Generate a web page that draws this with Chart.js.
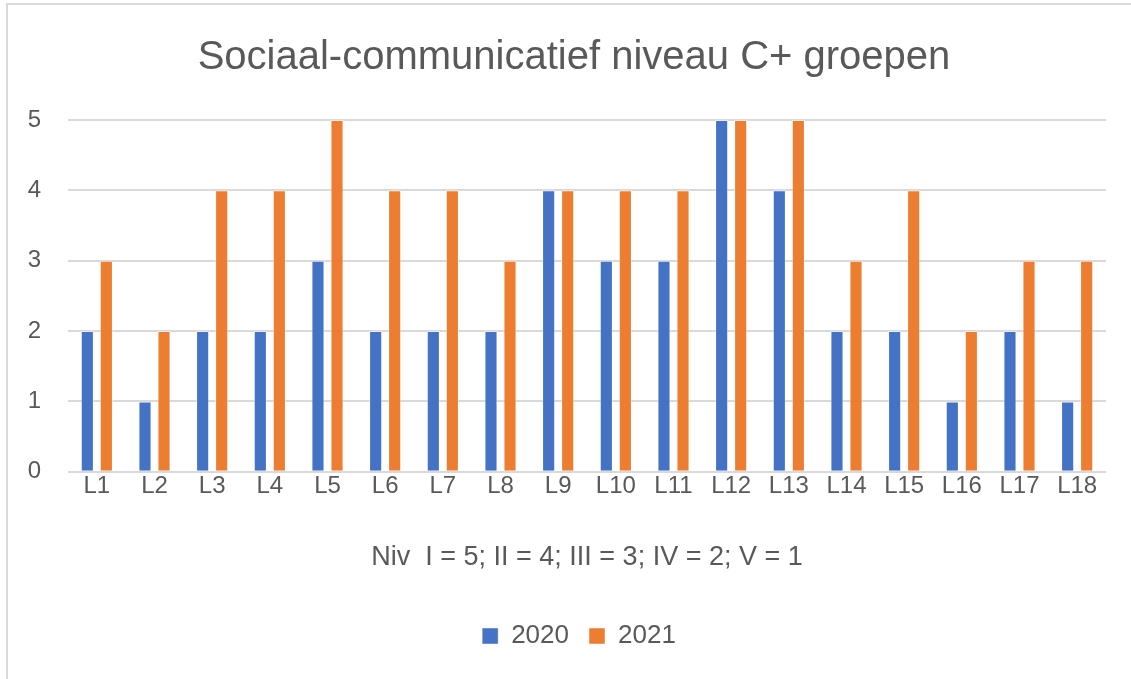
<!DOCTYPE html>
<html>
<head>
<meta charset="utf-8">
<script src="https://cdn.jsdelivr.net/npm/chart.js@4"></script>
<style>
  html, body { margin: 0; padding: 0; background: #fff; }
  #wrap { width: 1131px; height: 679px; }
</style>
</head>
<body>
<div id="wrap"><canvas id="chart"></canvas></div>
<script>
const categories = ['L1','L2','L3','L4','L5','L6','L7','L8','L9','L10','L11','L12','L13','L14','L15','L16','L17','L18']
const values2020 = [2, 1, 2, 2, 3, 2, 2, 2, 4, 3, 3, 5, 4, 2, 2, 1, 2, 1]
const values2021 = [3, 2, 4, 4, 5, 4, 4, 3, 4, 4, 4, 5, 5, 3, 4, 2, 3, 3]
const yTicks = [0, 1, 2, 3, 4, 5]

const textColor = '#595959'
const gridColor = '#d9d9d9'
const fontFamily = '"Liberation Sans", Arial, sans-serif'

// outer chart frame (the reference is a cropped screenshot of an Excel chart)
const framePlugin = {
  id: 'frame',
  afterLayout(chart) {
    // Excel centres title and legend on the whole (cropped) chart, not the plot area
    if (chart.titleBlock) { chart.titleBlock.left += 17; chart.titleBlock.right += 17 }
    if (chart.legend) { chart.legend.left += 22; chart.legend.right += 22 }
  },
  beforeDraw(chart) {
    const ctx = chart.ctx
    ctx.save()
    ctx.fillStyle = '#fff'
    ctx.fillRect(0, 0, chart.width, chart.height)
    ctx.strokeStyle = gridColor
    ctx.lineWidth = 2
    ctx.strokeRect(7, 4, chart.width + 20, chart.height + 20)
    ctx.restore()
  }
}

new Chart(document.getElementById('chart'), {
  type: 'bar',
  data: {
    labels: categories,
    datasets: [
      { label: '2020', data: values2020, backgroundColor: '#4472C4', borderColor: 'rgba(255,255,255,0.45)', borderWidth: 1 },
      { label: '2021', data: values2021, backgroundColor: '#ED7D31', borderColor: 'rgba(255,255,255,0.45)', borderWidth: 1 }
    ]
  },
  plugins: [framePlugin],
  options: {
    responsive: true,
    maintainAspectRatio: false,
    animation: false,
    categoryPercentage: 0.66,
    barPercentage: 0.69,
    layout: { padding: { left: 8, right: 25, top: 20, bottom: 20 } },
    plugins: {
      title: {
        display: true,
        text: 'Sociaal-communicatief niveau C+ groepen',
        color: textColor,
        font: { family: fontFamily, size: 40, weight: 'normal' },
        padding: { top: 14, bottom: 38 }
      },
      legend: {
        position: 'bottom',
        labels: {
          color: textColor,
          font: { family: fontFamily, size: 26 },
          boxWidth: 16,
          boxHeight: 16,
          padding: 20
        }
      },
      tooltip: { enabled: false }
    },
    scales: {
      x: {
        grid: { display: false },
        border: { display: false },
        ticks: { color: textColor, font: { family: fontFamily, size: 24 }, padding: -8, maxRotation: 0 },
        title: {
          display: true,
          text: 'Niv  I = 5; II = 4; III = 3; IV = 2; V = 1',
          color: textColor,
          font: { family: fontFamily, size: 27 },
          padding: { top: 49, bottom: 29 }
        }
      },
      y: {
        min: 0,
        max: 5,
        afterFit(scale) { scale.width = 60 },
        afterBuildTicks(scale) { scale.ticks = yTicks.map(v => ({ value: v })) },
        grid: { color: gridColor, lineWidth: 2, drawTicks: false },
        border: { display: false },
        ticks: { color: textColor, font: { family: fontFamily, size: 24 }, padding: 27 }
      }
    }
  }
})
</script>
</body>
</html>
